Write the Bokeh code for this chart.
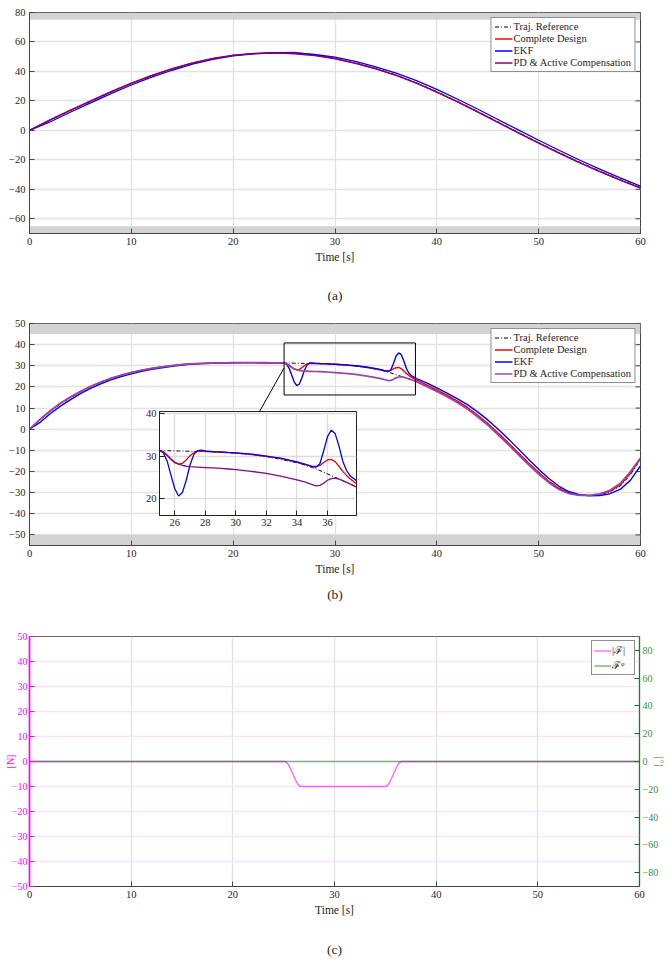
from bokeh.plotting import figure
from bokeh.models import (GridBox, Column, LinearAxis, Range1d, BoxAnnotation,
                          FixedTicker, ColumnDataSource)
from bokeh.embed import file_html
from bokeh.resources import INLINE

FONT = "Liberation Serif"
TXT = "#262626"

# ---------------- (a) trajectory tracking, first manoeuvre ----------------
t_a = [0, 2, 4, 6, 8, 10, 12, 14, 16, 18, 20, 22, 24, 26, 28, 30, 32, 34, 36, 38,
       40, 42, 44, 46, 48, 50, 52, 54, 56, 58, 60]
ref_a = [0, 6.8, 13.4, 19.7, 26.0, 31.8, 37.0, 41.6, 45.6, 48.7, 50.9, 52.1, 52.6, 52.3,
         51.0, 48.9, 45.8, 42.0, 37.6, 32.3, 26.3, 19.8, 12.9, 5.8, -1.3, -8.3, -15.0,
         -21.5, -27.6, -33.4, -38.8]
design_a = [0, 7.1, 13.7, 20.0, 26.3, 32.1, 37.3, 41.9, 45.8, 48.9, 51.0, 52.2, 52.8, 53.0,
            51.2, 48.9, 45.7, 41.9, 37.4, 32.1, 26.0, 19.5, 12.6, 5.5, -1.6, -8.6, -15.3,
            -21.8, -27.9, -33.7, -39.1]
ekf_a = [0, 5.7, 12.3, 18.6, 24.9, 30.8, 36.1, 40.8, 44.9, 48.2, 50.5, 51.9, 52.6, 52.5,
         51.5, 49.7, 46.8, 43.1, 38.8, 33.7, 27.8, 21.3, 14.5, 7.4, 0.3, -6.7, -13.5,
         -20.1, -26.3, -32.3, -37.9]
pd_a = [0, 6.9, 13.5, 19.8, 26.1, 31.9, 37.1, 41.7, 45.6, 48.7, 50.9, 52.1, 52.6, 52.0,
        50.7, 48.6, 45.5, 41.7, 37.3, 32.0, 25.9, 19.4, 12.5, 5.4, -1.7, -8.7, -15.4,
        -21.9, -28.0, -33.8, -39.2]
yticks_a = [-60, -40, -20, 0, 20, 40, 60, 80]
limits_a = (-65, 75)          # saturation bands
yrange_a = (-70, 80)

# ---------------- (b) trajectory tracking with disturbance ----------------
t_b = [0, 1, 2, 3, 4, 5, 6, 7, 8, 9, 10, 11, 12, 13, 14, 15, 16, 17, 18, 19, 20, 21, 22,
       23, 24,
       24.5, 25, 25.25, 25.5, 25.75, 26, 26.25, 26.5, 26.75, 27, 27.25, 27.5, 27.75, 28,
       28.5, 29, 29.5, 30, 31, 32, 33, 34, 34.5, 35, 35.25, 35.5, 35.75, 36, 36.25, 36.5,
       36.75, 37, 37.25, 37.5, 38,
       39, 40, 41, 42, 43, 44, 45, 46, 47, 48, 49, 50, 51, 52, 53, 54, 55, 56, 57, 58, 59, 60]
ref_b = [0, 4.2, 8.2, 11.8, 14.8, 17.6, 20.0, 22.1, 23.9, 25.4, 26.7, 27.8, 28.7, 29.4, 30.0,
         30.5, 30.9, 31.1, 31.3, 31.4, 31.5, 31.5, 31.5, 31.45, 31.4,
         31.35, 31.3, 31.3, 31.25, 31.25, 31.2, 31.2, 31.2, 31.15, 31.15, 31.1, 31.1, 31.1,
         31.05, 31.0, 30.9, 30.8, 30.7, 30.35, 29.9, 29.2, 28.4, 27.9, 27.3, 26.95, 26.6,
         26.2, 25.8, 25.4, 25.0, 24.6, 24.2, 23.8, 23.4, 22.5,
         20.5, 18.2, 15.8, 13.2, 10.2, 6.7, 2.8, -1.6, -6.2, -11.0, -15.8, -20.3, -24.5,
         -27.9, -30.1, -31.2, -31.4, -31.0, -29.6, -26.9, -21.6, -14.2]
design_b = [0, 4.5, 8.6, 12.2, 15.2, 17.9, 20.3, 22.3, 24.1, 25.6, 26.9, 27.9, 28.8, 29.5,
            30.1, 30.6, 30.95, 31.15, 31.3, 31.4, 31.5, 31.5, 31.5, 31.45, 31.4,
            31.35, 31.3, 31.0, 30.2, 29.2, 28.4, 28.1, 28.3, 29.1, 30.1, 30.8, 31.1, 31.15,
            31.1, 31.0, 30.9, 30.8, 30.7, 30.4, 29.95, 29.4, 28.6, 28.1, 27.6, 27.5, 27.8,
            28.5, 29.1, 29.2, 28.7, 27.6, 26.4, 25.4, 24.6, 23.2,
            21.0, 18.6, 16.1, 13.4, 10.3, 6.7, 2.7, -1.8, -6.4, -11.2, -16.0, -20.5, -24.7,
            -28.0, -30.2, -31.2, -31.3, -30.8, -29.3, -26.4, -21.0, -13.8]
ekf_b = [0, 3.1, 7.2, 10.8, 13.9, 16.8, 19.3, 21.4, 23.3, 24.9, 26.2, 27.4, 28.3, 29.1,
         29.8, 30.3, 30.8, 31.0, 31.2, 31.35, 31.45, 31.5, 31.5, 31.45, 31.4,
         31.35, 31.3, 30.8, 28.8, 25.5, 22.3, 20.6, 21.4, 24.3, 27.9, 30.4, 31.3, 31.4,
         31.2, 31.05, 31.0, 30.85, 30.75, 30.45, 30.0, 29.45, 28.65, 28.1, 27.5, 27.4,
         28.2, 31.2, 34.6, 36.1, 35.3, 32.4, 28.8, 26.6, 25.3, 23.9,
         21.9, 19.5, 17.1, 14.5, 11.6, 8.2, 4.4, 0.1, -4.5, -9.3, -14.2, -18.9, -23.3,
         -27.0, -29.6, -31.0, -31.5, -31.4, -30.5, -28.5, -24.2, -17.4]
pd_b = [0, 4.4, 8.5, 12.1, 15.1, 17.8, 20.2, 22.3, 24.0, 25.5, 26.8, 27.9, 28.8, 29.5,
        30.05, 30.55, 30.95, 31.15, 31.3, 31.4, 31.5, 31.5, 31.5, 31.45, 31.4,
        31.35, 31.3, 31.0, 30.2, 29.3, 28.6, 28.1, 27.8, 27.6, 27.5, 27.45, 27.4, 27.35,
        27.3, 27.2, 27.1, 26.95, 26.8, 26.4, 25.9, 25.2, 24.4, 23.9, 23.3, 23.0, 23.1,
        23.6, 24.3, 24.7, 24.8, 24.6, 24.2, 23.8, 23.4, 22.5,
        20.2, 17.8, 15.3, 12.6, 9.5, 5.9, 1.9, -2.6, -7.2, -12.0, -16.8, -21.2, -25.3,
        -28.5, -30.5, -31.3, -31.3, -30.6, -28.9, -25.7, -20.1, -13.6]
yticks_b = [-50, -40, -30, -20, -10, 0, 10, 20, 30, 40, 50]
limits_b = (-50, 45)
yrange_b = (-55, 50)

# zoom window shown in the inset
zoom_x = (25, 37.9)
zoom_y = (16, 40.5)
inset_xticks = [26, 28, 30, 32, 34, 36]
inset_yticks = [20, 30, 40]

# ---------------- (c) disturbance force ----------------
t_c = [0, 25.1, 25.3, 25.5, 25.7, 25.9, 26.1, 26.3, 26.5, 26.7,
       35.0, 35.2, 35.4, 35.6, 35.8, 36.0, 36.2, 36.4, 36.6, 60]
force_mag = [0, 0, -0.4, -1.5, -3.2, -5.0, -6.8, -8.5, -9.6, -10,
             -10, -9.6, -8.5, -6.8, -5.0, -3.2, -1.5, -0.4, 0, 0]
t_phi = [0, 60]
force_phi = [0, 0]
yticks_c = [-50, -40, -30, -20, -10, 0, 10, 20, 30, 40, 50]
yticks_deg = [-80, -60, -40, -20, 0, 20, 40, 60, 80]
yrange_c = (-50, 50)
yrange_deg = (-90, 90)

x_span = (0, 60)
xticks = [0, 10, 20, 30, 40, 50, 60]

AX = "#454545"


def style_axis(ax, color=AX, label_color=TXT, size="10.5px"):
    ax.axis_line_color = color
    ax.major_tick_line_color = color
    ax.major_tick_in = 5
    ax.major_tick_out = 0
    ax.minor_tick_line_color = None
    ax.major_label_text_font = FONT
    ax.major_label_text_font_size = size
    ax.major_label_text_color = label_color
    ax.major_label_standoff = 4
    ax.axis_label_text_font = FONT
    ax.axis_label_text_font_style = "normal"
    ax.axis_label_text_font_size = "11.5px"
    ax.axis_label_text_color = TXT
    ax.axis_label_standoff = 3


def panel(height, top, frame_h, yrange, yticks, right_border=31):
    p = figure(width=671, height=height, x_range=Range1d(*x_span),
               y_range=Range1d(*yrange), output_backend="svg", toolbar_location=None,
               min_border_left=29, min_border_right=right_border, min_border_top=top,
               min_border_bottom=height - top - frame_h)
    p.xaxis.ticker = FixedTicker(ticks=xticks)
    p.yaxis.ticker = FixedTicker(ticks=yticks)
    p.xaxis.axis_label = "Time [s]"
    style_axis(p.xaxis[0])
    style_axis(p.yaxis[0])
    p.outline_line_color = AX
    p.outline_line_width = 1
    p.xgrid.grid_line_color = "#e2e2e2"
    p.ygrid.grid_line_color = "#e2e2e2"
    p.xgrid.grid_line_width = 1.3
    p.ygrid.grid_line_width = 1.3
    p.background_fill_color = "white"
    p.border_fill_color = "white"
    return p


def add_bands(p, limits, yrange):
    lo, hi = limits
    p.add_layout(BoxAnnotation(bottom=yrange[0], top=lo, fill_color="#d3d3d3",
                               fill_alpha=1, line_alpha=0, level="underlay"))
    p.add_layout(BoxAnnotation(bottom=hi, top=yrange[1], fill_color="#d3d3d3",
                               fill_alpha=1, line_alpha=0, level="underlay"))


def add_right_ticks(p, yticks, color=AX):
    # inward tick marks on the right edge of the box (the half outside is clipped)
    p.scatter([x_span[1]] * len(yticks), yticks, marker="dash", size=10,
              line_color=color, line_width=1)


def style_legend(p, size="10.5px"):
    lg = p.legend[0]
    lg.location = "top_right"
    lg.border_line_color = "#222222"
    lg.border_line_width = 1
    lg.label_text_font = FONT
    lg.label_text_font_size = size
    lg.label_text_color = TXT
    lg.glyph_width = 18
    lg.glyph_height = 11
    lg.label_height = 11
    lg.label_standoff = 1
    lg.spacing = 1
    lg.padding = 3
    lg.margin = 5
    lg.background_fill_alpha = 1


def caption(p, text, gap):
    # sub-figure caption: a bare axis below the time axis that carries only a label
    ax = LinearAxis(ticker=FixedTicker(ticks=[]), axis_label=text)
    ax.axis_line_color = None
    ax.major_tick_line_color = None
    ax.minor_tick_line_color = None
    ax.major_tick_in = 0
    ax.major_tick_out = 0
    ax.major_label_standoff = 0
    ax.axis_label_standoff = gap
    ax.axis_label_text_font = FONT
    ax.axis_label_text_font_style = "normal"
    ax.axis_label_text_font_size = "13.5px"
    ax.axis_label_text_color = TXT
    p.add_layout(ax, "below")


# ---------------- panel (a) ----------------
pa = panel(310, 12, 221, yrange_a, yticks_a)
add_bands(pa, limits_a, yrange_a)
add_right_ticks(pa, yticks_a)
src_a = ColumnDataSource(dict(t=t_a, ref=ref_a, des=design_a, ekf=ekf_a, pd=pd_a))
pa.line("t", "ref", source=src_a, color="black", line_width=1, line_dash="4 2 1 2",
        legend_label="Traj. Reference")
pa.line("t", "des", source=src_a, color="#ff0000", line_width=1.3,
        legend_label="Complete Design")
pa.line("t", "ekf", source=src_a, color="#0000ff", line_width=1.3, legend_label="EKF")
pa.line("t", "pd", source=src_a, color="#800080", line_width=1.3,
        legend_label="PD & Active Compensation")
style_legend(pa)
caption(pa, "(a)", 22)

# ---------------- panel (b) ----------------
pb = panel(310, 13, 222, yrange_b, yticks_b)
add_bands(pb, limits_b, yrange_b)
add_right_ticks(pb, yticks_b)
src_b = ColumnDataSource(dict(t=t_b, ref=ref_b, des=design_b, ekf=ekf_b, pd=pd_b))
pb.line("t", "ref", source=src_b, color="black", line_width=1, line_dash="4 2 1 2",
        legend_label="Traj. Reference")
pb.line("t", "des", source=src_b, color="#ff0000", line_width=1.4,
        legend_label="Complete Design")
pb.line("t", "ekf", source=src_b, color="#0000ff", line_width=1.4, legend_label="EKF")
pb.line("t", "pd", source=src_b, color="#9a46a8", line_width=1.7,
        legend_label="PD & Active Compensation")
# zoom window and leader line to the inset
pb.quad(left=[zoom_x[0]], right=[zoom_x[1]], bottom=[zoom_y[0] + 0.2],
        top=[zoom_y[1] + 0.3], fill_color=None, line_color="black", line_width=1)
pb.segment(x0=[25.0], y0=[29.0], x1=[22.6], y1=[8.5], line_color="black", line_width=1)
style_legend(pb)
caption(pb, "(b)", 9)

# inset axes over panel (b)
ins = figure(width=225, height=126, x_range=Range1d(*zoom_x), y_range=Range1d(*zoom_y),
             output_backend="svg", toolbar_location=None,
             min_border_left=24, min_border_right=4, min_border_top=2, min_border_bottom=20)
ins.border_fill_color = None
ins.background_fill_color = "white"
ins.outline_line_color = "#222222"
ins.xaxis.ticker = FixedTicker(ticks=inset_xticks)
ins.yaxis.ticker = FixedTicker(ticks=inset_yticks)
style_axis(ins.xaxis[0], color="#222222", size="10.5px")
style_axis(ins.yaxis[0], color="#222222", size="10.5px")
ins.xaxis.major_label_standoff = 3
ins.yaxis.major_label_standoff = 3
ins.xgrid.grid_line_color = "#dcdcdc"
ins.ygrid.grid_line_color = "#dcdcdc"
ins.xgrid.grid_line_width = 1.3
ins.ygrid.grid_line_width = 1.3
ins.line("t", "ref", source=src_b, color="black", line_width=1, line_dash="4 2 1 2")
ins.line("t", "des", source=src_b, color="#ff0000", line_width=1.3)
ins.line("t", "ekf", source=src_b, color="#0000ff", line_width=1.3)
ins.line("t", "pd", source=src_b, color="#850a85", line_width=1.3)

# ---------------- panel (c) ----------------
MAG = "#ff00ff"
GRN = "#008000"
pc = panel(342, 16, 250, yrange_c, yticks_c, right_border=32)
pc.extra_y_ranges = {"deg": Range1d(*yrange_deg)}
left = pc.yaxis[0]
style_axis(left, color=MAG, label_color=MAG, size="10px")
left.axis_line_width = 2
left.axis_line_alpha = 0.7
left.major_label_standoff = 2
left.axis_label = "[N]"
left.axis_label_text_color = MAG
left.axis_label_text_font_size = "10px"
left.axis_label_standoff = -7
right = LinearAxis(y_range_name="deg", ticker=FixedTicker(ticks=yticks_deg),
                   axis_label="[°]")
style_axis(right, color=GRN, label_color="#3a8f3a", size="10px")
right.axis_line_width = 1.5
right.axis_line_alpha = 0.6
right.major_label_standoff = 3
right.axis_label_text_color = "#6aa86a"
right.axis_label_text_font_size = "10px"
right.axis_label_standoff = -7
pc.add_layout(right, "right")
pc.outline_line_color = "#6e5e6e"
pc.ygrid.grid_line_color = "#fbe2fb"
src_c = ColumnDataSource(dict(t=t_c, f=force_mag))
pc.line("t", "f", source=src_c, color=MAG, line_width=1.4, alpha=0.6,
        legend_label="|ℱ|")
pc.line(t_phi, force_phi, y_range_name="deg", color=GRN, line_width=1.6, alpha=0.5,
        legend_label="ℱᵠ")
style_legend(pc, size="10.5px")
pc.legend[0].margin = 4
pc.legend[0].padding = 2
pc.legend[0].glyph_width = 17
caption(pc, "(c)", 23)

# each figure sits in its own box so its frame keeps its own borders;
# the inset box shares the cell of panel (b) and is shifted over it
box_a = Column(children=[pa])
box_b = Column(children=[pb])
box_i = Column(children=[ins], margin=(99, 0, 0, 135), align="start")
box_c = Column(children=[pc])

layout = GridBox(children=[(box_a, 0, 0), (box_b, 1, 0), (box_i, 1, 0), (box_c, 2, 0)],
                 spacing=0)

with open("out.html", "w") as fh:
    fh.write(file_html(layout, INLINE))
